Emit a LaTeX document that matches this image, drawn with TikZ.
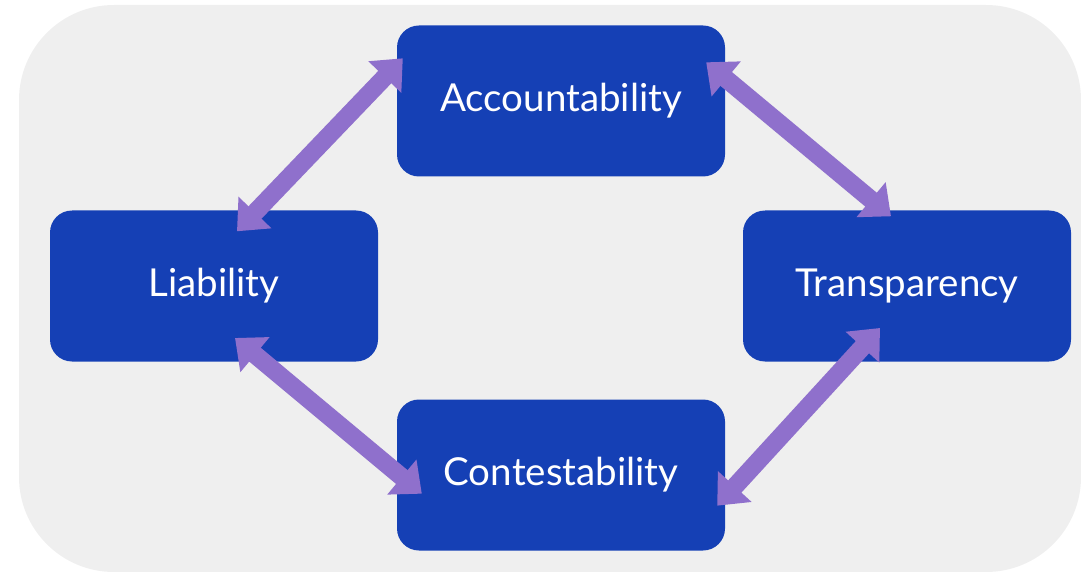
\documentclass[tikz,border=0pt]{standalone}
\usepackage{fontspec}
\setmainfont{Lato}
\usetikzlibrary{arrows.meta}
\definecolor{panel}{HTML}{EFEFEF}
\definecolor{boxblue}{HTML}{1540B5}
\definecolor{linkpurple}{HTML}{8F70CC}
\begin{document}
\begin{tikzpicture}[x=1pt,y=-1pt,
  pillar/.style={fill=boxblue, rounded corners=22pt, minimum width=328pt,
    minimum height=151pt, inner sep=0pt, text=white,
    font=\fontsize{38.5}{42}\selectfont},
  link/.style={draw=linkpurple, line width=18pt,
    {Triangle[width=44pt,length=26pt]}-{Triangle[width=44pt,length=26pt]}}]
  \useasboundingbox (0,0) rectangle (1081,572);
  % backdrop panel
  \fill[panel, rounded corners=95pt] (19,5) rectangle (1081,572);
  % the four principles
  \node[pillar] (acc) at (561,101) {Accountability};
  \node[pillar] (lia) at (214,286) {Liability};
  \node[pillar] (tra) at (907,286) {Transparency};
  \node[pillar] (con) at (561,475) {Contestability};
  % link end points
  \coordinate (liaA) at ([xshift=23pt,yshift=-21pt]lia.north);
  \coordinate (accL) at ([xshift=6pt,yshift=-33pt]acc.north west);
  \coordinate (accR) at ([xshift=-19pt,yshift=-37pt]acc.north east);
  \coordinate (traA) at ([xshift=-16pt,yshift=-6pt]tra.north);
  \coordinate (liaC) at ([xshift=21pt,yshift=-52pt]lia.center);
  \coordinate (conL) at ([xshift=25pt,yshift=57pt]con.south west);
  \coordinate (traC) at ([xshift=-27pt,yshift=-42pt]tra.center);
  \coordinate (conR) at ([xshift=-8pt,yshift=45pt]con.south east);
  % double-headed links
  \draw[link] (liaA) -- (accL);
  \draw[link] (accR) -- (traA);
  \draw[link] (liaC) -- (conL);
  \draw[link] (traC) -- (conR);
\end{tikzpicture}
\end{document}
